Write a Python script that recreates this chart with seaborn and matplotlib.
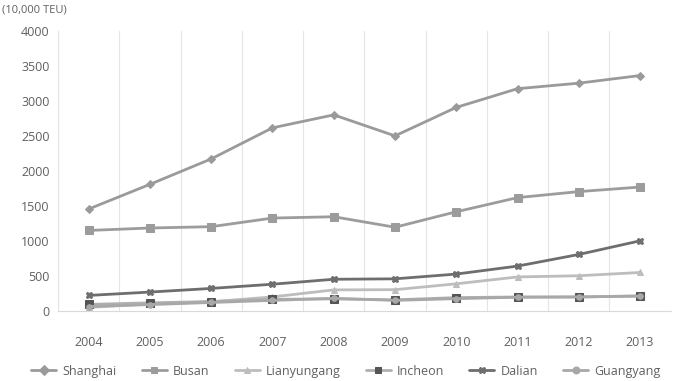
import pandas as pd
import seaborn as sns
from matplotlib import pyplot as plt
from matplotlib.ticker import MultipleLocator

# Container throughput, 10,000 TEU
years = [2004, 2005, 2006, 2007, 2008, 2009, 2010, 2011, 2012, 2013]
shanghai = [1455, 1808, 2171, 2615, 2800, 2500, 2907, 3174, 3253, 3362]
busan = [1149, 1184, 1203, 1326, 1345, 1195, 1416, 1618, 1704, 1769]
lianyungang = [50, 100, 130, 200, 300, 303, 387, 485, 502, 549]
incheon = [93, 115, 134, 166, 171, 158, 190, 199, 198, 216]
dalian = [221, 269, 321, 381, 452, 458, 526, 640, 806, 1001]
guangyang = [62, 90, 120, 150, 180, 150, 175, 195, 200, 210]

ports = ["Shanghai", "Busan", "Lianyungang", "Incheon", "Dalian", "Guangyang"]
series = [shanghai, busan, lianyungang, incheon, dalian, guangyang]

rows = []
for port, vals in zip(ports, series):
    for yr, v in zip(years, vals):
        rows.append({"year": yr, "teu": v, "port": port})
df = pd.DataFrame(rows)

sns.set_style("white")
plt.rcParams['font.family'] = ['Open Sans', 'DejaVu Sans']

palette = {"Shanghai": "#9a9a9a", "Busan": "#9c9c9c", "Lianyungang": "#bdbdbd",
           "Incheon": "#b0b0b0", "Dalian": "#6e6e6e", "Guangyang": "#a8a8a8"}
markers = {"Shanghai": "D", "Busan": "s", "Lianyungang": "^",
           "Incheon": "s", "Dalian": "X", "Guangyang": "o"}
msize = {"Shanghai": 4, "Busan": 6, "Lianyungang": 5, "Incheon": 6, "Dalian": 5, "Guangyang": 4}

fig = plt.figure(figsize=(6.83, 3.81), dpi=100)
ax = fig.add_axes([0.085, 0.184, 0.897, 0.735])

sns.lineplot(data=df, x="year", y="teu", hue="port", style="port", palette=palette,
             markers=markers, dashes=False, linewidth=2, markersize=5, ax=ax,
             markeredgecolor=None)

# darker square markers on Incheon, like the reference
for line, port in zip(ax.get_lines(), ports):
    line.set_markersize(msize[port])
    if port == "Incheon":
        line.set_markerfacecolor("#555555")
        line.set_markeredgecolor("#555555")
    else:
        line.set_markeredgecolor(palette[port])

ax.set_xlim(2003.5, 2013.5)
ax.set_ylim(0, 4000)
ax.set_xticks(years)
ax.set_yticks(range(0, 4001, 500))
ax.xaxis.set_minor_locator(MultipleLocator(1, offset=0.5))
ax.grid(which="minor", axis="x", color="#e4e4e4", linewidth=0.8)
ax.grid(which="major", axis="x", visible=False)
ax.tick_params(which="both", length=0, colors="#606060", labelsize=9)
ax.tick_params(axis="x", pad=18)
ax.tick_params(axis="y", pad=6)
for s in ["top", "right"]:
    ax.spines[s].set_visible(False)
ax.spines["left"].set_color("#e4e4e4")
ax.spines["bottom"].set_color("#d9d9d9")
ax.set_xlabel("")
ax.set_ylabel("")

fig.text(0.003, 0.975, "(10,000 TEU)", fontsize=8, color="#606060", va="center")

handles, labels = ax.get_legend_handles_labels()
for h, port in zip(handles, labels):
    if port == "Incheon":
        h.set_markerfacecolor("#555555")
        h.set_markeredgecolor("#555555")
ax.legend(handles, labels, loc="center", bbox_to_anchor=(0.47, -0.215), ncol=6,
          frameon=False, fontsize=9, labelcolor="#606060", handlelength=2,
          columnspacing=2.0, handletextpad=0.5)

fig.savefig("out.png", dpi=100)
